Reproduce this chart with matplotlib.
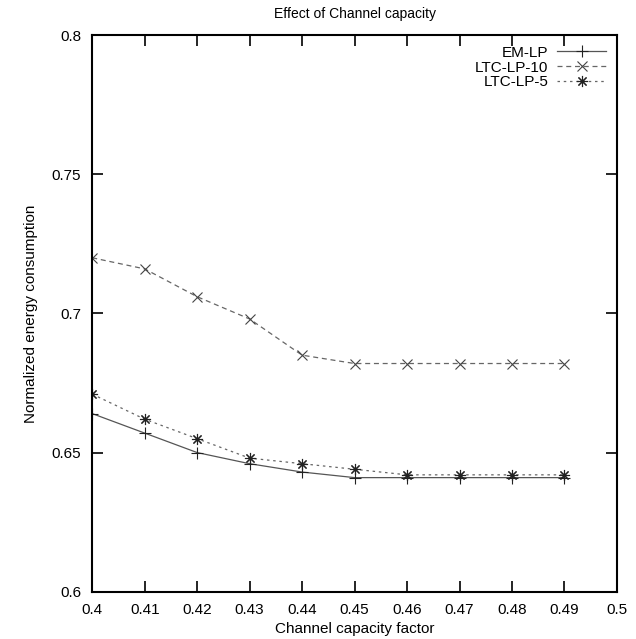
import matplotlib.pyplot as plt

plt.rcParams['font.family'] = ['Liberation Sans', 'DejaVu Sans']

# data
capacity = [0.40, 0.41, 0.42, 0.43, 0.44, 0.45, 0.46, 0.47, 0.48, 0.49]
em_lp = [0.664, 0.657, 0.650, 0.646, 0.643, 0.641, 0.641, 0.641, 0.641, 0.641]
ltc_lp_10 = [0.720, 0.716, 0.706, 0.698, 0.685, 0.682, 0.682, 0.682, 0.682, 0.682]
ltc_lp_5 = [0.671, 0.662, 0.655, 0.648, 0.646, 0.644, 0.642, 0.642, 0.642, 0.642]

x_ticks = [0.4, 0.41, 0.42, 0.43, 0.44, 0.45, 0.46, 0.47, 0.48, 0.49, 0.5]
y_ticks = [0.6, 0.65, 0.7, 0.75, 0.8]

fig = plt.figure(figsize=(6.36, 6.39), dpi=100)
ax = fig.add_axes([0.145, 0.074, 0.825, 0.871])

ax.plot(capacity, em_lp, color='#555555', lw=0.9, ls='-',
        marker='+', ms=8, mec='#222222', mew=0.8, label='EM-LP')
ax.plot(capacity, ltc_lp_10, color='#666666', lw=0.9, ls=(0, (4, 3)),
        marker='x', ms=6.5, mec='#444444', mew=0.8, label='LTC-LP-10')
ax.plot(capacity, ltc_lp_5, color='#666666', lw=0.9, ls=(0, (2, 3)),
        marker=(8, 2, 0), ms=8, mec='#222222', mew=0.8, label='LTC-LP-5')

ax.set_xlim(0.4, 0.5)
ax.set_ylim(0.6, 0.8)
ax.set_xticks(x_ticks)
ax.set_xticklabels([f'{t:g}' for t in x_ticks])
ax.set_yticks(y_ticks)
ax.set_yticklabels([f'{t:g}' for t in y_ticks])
ax.tick_params(direction='in', length=8, width=1.2, top=True, right=True,
               labelsize=11, pad=8)
for s in ax.spines.values():
    s.set_linewidth(1.5)

ax.set_title('Effect of Channel capacity', fontsize=10, pad=12)
ax.set_xlabel('Channel capacity factor', fontsize=11, labelpad=4)
ax.set_ylabel('Normalized energy consumption', fontsize=11, labelpad=10)

leg = ax.legend(loc='upper right', frameon=False, markerfirst=False,
                fontsize=11, handlelength=3.2, labelspacing=0.05,
                borderaxespad=0.3, handletextpad=0.6)
for t in leg.get_texts():
    t.set_ha('right')

fig.savefig('out.png', dpi=100)
